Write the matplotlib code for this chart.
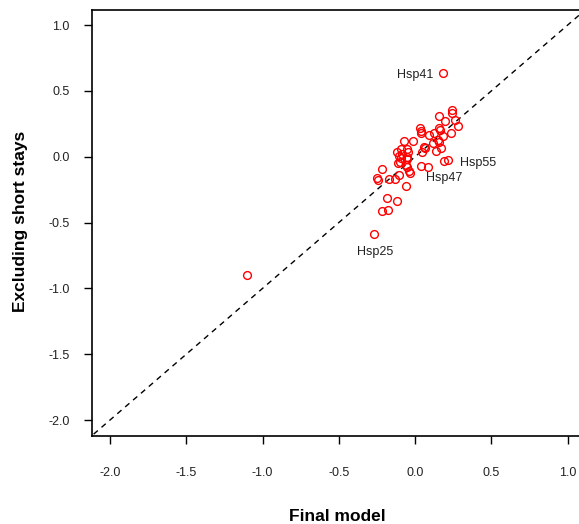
import matplotlib.pyplot as plt
import numpy as np

plt.rcParams['font.family'] = ['Liberation Sans', 'DejaVu Sans']

# values (final model vs. excluding short stays)
final_model = [0.180, 0.241, 0.241, 0.156, 0.196, 0.261, 0.283, 0.031, 0.036,
               0.156, 0.163, 0.123, 0.233, 0.091, 0.182, 0.150, 0.156, -0.012,
               -0.073, 0.058, 0.064, 0.167, 0.139, -0.091, -0.056, -0.121,
               -0.047, -0.084, -0.095, -0.056, -0.113, -0.062, 0.036, 0.084,
               0.189, 0.215, -0.220, -0.248, -0.241, -0.172, -0.133, -0.041,
               -0.034, -0.106, -0.062, -0.187, -0.117, -0.220, -0.178, -0.270,
               -1.099, 0.036, 0.119, -0.106, -0.051, -0.101, -0.051, 0.047]
excl_short = [0.638, 0.354, 0.334, 0.309, 0.271, 0.278, 0.233, 0.215, 0.195,
              0.220, 0.203, 0.182, 0.182, 0.165, 0.159, 0.127, 0.109, 0.121,
              0.121, 0.076, 0.064, 0.068, 0.043, 0.056, 0.058, 0.033, 0.038,
              0.020, -0.012, -0.018, -0.050, -0.063, -0.071, -0.076, -0.031,
              -0.025, -0.096, -0.164, -0.177, -0.172, -0.172, -0.107, -0.126,
              -0.139, -0.223, -0.316, -0.337, -0.413, -0.405, -0.587, -0.899,
              0.177, 0.106, 0.007, 0.000, -0.038, -0.076, 0.038]

labels = ['Hsp41', 'Hsp55', 'Hsp47', 'Hsp25']
label_x = [0.000, 0.410, 0.189, -0.264]
label_y = [0.623, -0.046, -0.164, -0.722]

ticks = np.arange(-2.0, 1.01, 0.5)

fig = plt.figure(figsize=(5.79, 5.24), dpi=100)
ax = fig.add_axes([91.7 / 579, (524 - 435.7) / 524, (579 - 91.7) / 579, (435.7 - 10) / 524])

ax.set_xlim(-2.12, 1.074)
ax.set_ylim(-2.119, 1.114)

# identity line
lims = np.array([-3, 2])
ax.plot(lims, lims, color='black', linestyle=(0, (4, 3.5)), linewidth=1.0)

ax.plot(final_model, excl_short, linestyle='none', marker='o', markersize=5.6,
        markerfacecolor='none', markeredgecolor='#ff0000', markeredgewidth=1.0)

for lab, lx, ly in zip(labels, label_x, label_y):
    ax.text(lx, ly, lab, fontsize=9, ha='center', va='center', color='#222222')

ax.set_xticks(ticks)
ax.set_yticks(ticks)
ax.set_xticklabels([f'{t:.1f}' for t in ticks])
ax.set_yticklabels([f'{t:.1f}' for t in ticks])
ax.tick_params(axis='both', direction='out', length=5.8, width=1.0,
               labelsize=9, colors='black', labelcolor='#222222')
ax.tick_params(axis='x', pad=17)
ax.tick_params(axis='y', pad=10)

ax.spines['right'].set_visible(False)
for s in ['top', 'left', 'bottom']:
    ax.spines[s].set_linewidth(1.2)

ax.set_xlabel('Final model', fontsize=12.5, fontweight='bold', va='center')
ax.set_ylabel('Excluding short stays', fontsize=12.5, fontweight='bold', va='center')
ax.xaxis.set_label_coords(0.505, -0.19)
ax.yaxis.set_label_coords(-0.147, 0.503)

plt.savefig('out.png', dpi=100, facecolor='white')
